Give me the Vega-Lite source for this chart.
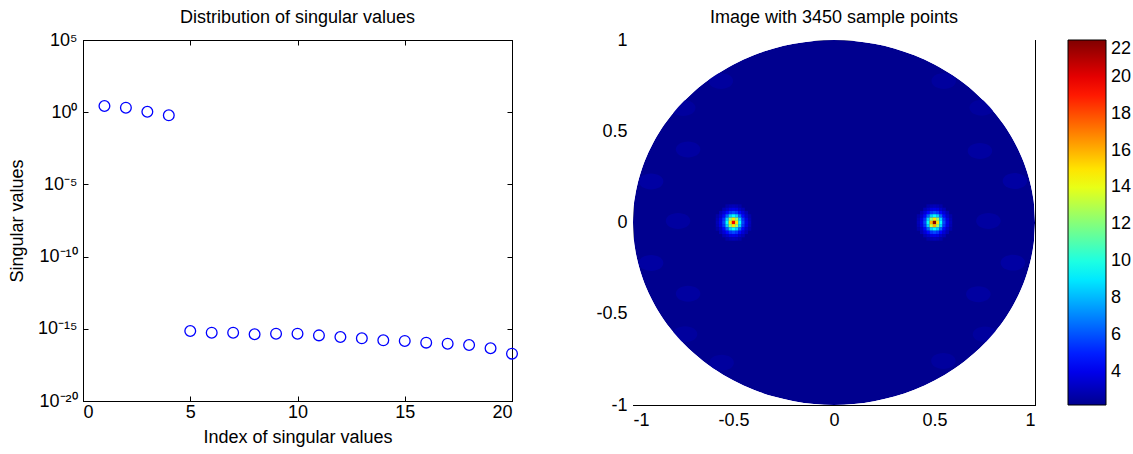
{
  "$schema": "https://vega.github.io/schema/vega-lite/v6.json",
  "autosize": {"type": "pad"},
  "padding": {"left": 8, "top": 8, "right": 0, "bottom": 0},
  "background": "white",
  "bounds": "flush",
  "spacing": 121,
  "config": {
    "view": {"stroke": "#000", "strokeWidth": 1},
    "font": "Liberation Sans",
    "axis": {"labelFont": "Liberation Sans", "labelFontSize": 18, "labelColor": "#000", "tickColor": "#000", "domain": true, "domainColor": "#000", "tickSize": -5, "labelPadding": 10, "grid": false, "zindex": 1, "titleFont": "Liberation Sans", "titleFontSize": 18, "titleFontWeight": "normal", "titleColor": "#000"},
    "title": {"font": "Liberation Sans", "fontSize": 18, "fontWeight": "normal", "color": "#000", "offset": 4},
    "legend": {"labelFont": "Liberation Sans", "labelFontSize": 18, "labelColor": "#000"}
  },
  "datasets": {
    "sv": [
      {"index": 1, "value": 2.7}, {"index": 2, "value": 2.05}, {"index": 3, "value": 1.08}, {"index": 4, "value": 0.61},
      {"index": 5, "value": 7e-16}, {"index": 6, "value": 5.4e-16}, {"index": 7, "value": 5.4e-16}, {"index": 8, "value": 4.2e-16},
      {"index": 9, "value": 4.6e-16}, {"index": 10, "value": 4.6e-16}, {"index": 11, "value": 3.5e-16}, {"index": 12, "value": 2.7e-16},
      {"index": 13, "value": 2.2e-16}, {"index": 14, "value": 1.6e-16}, {"index": 15, "value": 1.44e-16}, {"index": 16, "value": 1.1e-16},
      {"index": 17, "value": 9.3e-17}, {"index": 18, "value": 7.6e-17}, {"index": 19, "value": 4.5e-17}, {"index": 20, "value": 1.9e-17}
    ],
    "disk": [
      {"dx": -1, "ylo": 0, "yhi": 0, "v": 2.2},
      {"dx": -0.995, "ylo": -0.0999, "yhi": 0.0999, "v": 2.2},
      {"dx": -0.99, "ylo": -0.1411, "yhi": 0.1411, "v": 2.2},
      {"dx": -0.98, "ylo": -0.199, "yhi": 0.199, "v": 2.2},
      {"dx": -0.96, "ylo": -0.28, "yhi": 0.28, "v": 2.2},
      {"dx": -0.93, "ylo": -0.3676, "yhi": 0.3676, "v": 2.2},
      {"dx": -0.9, "ylo": -0.4359, "yhi": 0.4359, "v": 2.2},
      {"dx": -0.86, "ylo": -0.5103, "yhi": 0.5103, "v": 2.2},
      {"dx": -0.8, "ylo": -0.6, "yhi": 0.6, "v": 2.2},
      {"dx": -0.75, "ylo": -0.6614, "yhi": 0.6614, "v": 2.2},
      {"dx": -0.7, "ylo": -0.7141, "yhi": 0.7141, "v": 2.2},
      {"dx": -0.65, "ylo": -0.76, "yhi": 0.76, "v": 2.2},
      {"dx": -0.6, "ylo": -0.8, "yhi": 0.8, "v": 2.2},
      {"dx": -0.5, "ylo": -0.866, "yhi": 0.866, "v": 2.2},
      {"dx": -0.4, "ylo": -0.9165, "yhi": 0.9165, "v": 2.2},
      {"dx": -0.3, "ylo": -0.9539, "yhi": 0.9539, "v": 2.2},
      {"dx": -0.2, "ylo": -0.9798, "yhi": 0.9798, "v": 2.2},
      {"dx": -0.1, "ylo": -0.995, "yhi": 0.995, "v": 2.2},
      {"dx": 0, "ylo": -1, "yhi": 1, "v": 2.2},
      {"dx": 0.1, "ylo": -0.995, "yhi": 0.995, "v": 2.2},
      {"dx": 0.2, "ylo": -0.9798, "yhi": 0.9798, "v": 2.2},
      {"dx": 0.3, "ylo": -0.9539, "yhi": 0.9539, "v": 2.2},
      {"dx": 0.4, "ylo": -0.9165, "yhi": 0.9165, "v": 2.2},
      {"dx": 0.5, "ylo": -0.866, "yhi": 0.866, "v": 2.2},
      {"dx": 0.6, "ylo": -0.8, "yhi": 0.8, "v": 2.2},
      {"dx": 0.65, "ylo": -0.76, "yhi": 0.76, "v": 2.2},
      {"dx": 0.7, "ylo": -0.7141, "yhi": 0.7141, "v": 2.2},
      {"dx": 0.75, "ylo": -0.6614, "yhi": 0.6614, "v": 2.2},
      {"dx": 0.8, "ylo": -0.6, "yhi": 0.6, "v": 2.2},
      {"dx": 0.86, "ylo": -0.5103, "yhi": 0.5103, "v": 2.2},
      {"dx": 0.9, "ylo": -0.4359, "yhi": 0.4359, "v": 2.2},
      {"dx": 0.93, "ylo": -0.3676, "yhi": 0.3676, "v": 2.2},
      {"dx": 0.96, "ylo": -0.28, "yhi": 0.28, "v": 2.2},
      {"dx": 0.98, "ylo": -0.199, "yhi": 0.199, "v": 2.2},
      {"dx": 0.99, "ylo": -0.1411, "yhi": 0.1411, "v": 2.2},
      {"dx": 0.995, "ylo": -0.0999, "yhi": 0.0999, "v": 2.2},
      {"dx": 1, "ylo": 0, "yhi": 0, "v": 2.2}
    ],
    "spots": [
      {"sx": -0.776, "sy": 0.008, "v": 2.55}, {"sx": -0.726, "sy": 0.4, "v": 2.55}, {"sx": -0.726, "sy": -0.39, "v": 2.55},
      {"sx": -0.91, "sy": 0.225, "v": 2.6}, {"sx": -0.91, "sy": -0.222, "v": 2.6}, {"sx": -0.75, "sy": 0.627, "v": 2.5},
      {"sx": -0.741, "sy": -0.612, "v": 2.5}, {"sx": -0.563, "sy": 0.775, "v": 2.5}, {"sx": -0.559, "sy": -0.768, "v": 2.5},
      {"sx": 0.768, "sy": 0.008, "v": 2.55}, {"sx": 0.726, "sy": 0.392, "v": 2.55}, {"sx": 0.718, "sy": -0.393, "v": 2.55},
      {"sx": 0.9, "sy": 0.227, "v": 2.6}, {"sx": 0.89, "sy": -0.22, "v": 2.6}, {"sx": 0.735, "sy": 0.629, "v": 2.5},
      {"sx": 0.751, "sy": -0.613, "v": 2.5}, {"sx": 0.546, "sy": 0.775, "v": 2.5}, {"sx": 0.544, "sy": -0.759, "v": 2.5}
    ],
    "peaks": [
      {"px": -0.532, "py": 0.09, "v": 2.7}, {"px": -0.516, "py": 0.09, "v": 2.9}, {"px": -0.5, "py": 0.09, "v": 3.0}, {"px": -0.484, "py": 0.09, "v": 2.9}, {"px": -0.468, "py": 0.09, "v": 2.7},
      {"px": -0.548, "py": 0.072, "v": 2.9}, {"px": -0.532, "py": 0.072, "v": 3.3}, {"px": -0.516, "py": 0.072, "v": 3.8}, {"px": -0.5, "py": 0.072, "v": 3.9}, {"px": -0.484, "py": 0.072, "v": 3.8}, {"px": -0.468, "py": 0.072, "v": 3.3}, {"px": -0.452, "py": 0.072, "v": 2.9},
      {"px": -0.564, "py": 0.054, "v": 2.9}, {"px": -0.548, "py": 0.054, "v": 3.6}, {"px": -0.532, "py": 0.054, "v": 4.5}, {"px": -0.516, "py": 0.054, "v": 5.4}, {"px": -0.5, "py": 0.054, "v": 5.8}, {"px": -0.484, "py": 0.054, "v": 5.4}, {"px": -0.468, "py": 0.054, "v": 4.5}, {"px": -0.452, "py": 0.054, "v": 3.6}, {"px": -0.436, "py": 0.054, "v": 2.9},
      {"px": -0.58, "py": 0.036, "v": 2.7}, {"px": -0.564, "py": 0.036, "v": 3.3}, {"px": -0.548, "py": 0.036, "v": 4.5}, {"px": -0.532, "py": 0.036, "v": 6.3}, {"px": -0.516, "py": 0.036, "v": 8.5}, {"px": -0.5, "py": 0.036, "v": 9.5}, {"px": -0.484, "py": 0.036, "v": 8.5}, {"px": -0.468, "py": 0.036, "v": 6.3}, {"px": -0.452, "py": 0.036, "v": 4.5}, {"px": -0.436, "py": 0.036, "v": 3.3}, {"px": -0.42, "py": 0.036, "v": 2.7},
      {"px": -0.58, "py": 0.018, "v": 2.9}, {"px": -0.564, "py": 0.018, "v": 3.8}, {"px": -0.548, "py": 0.018, "v": 5.4}, {"px": -0.532, "py": 0.018, "v": 8.5}, {"px": -0.516, "py": 0.018, "v": 12.5}, {"px": -0.5, "py": 0.018, "v": 15}, {"px": -0.484, "py": 0.018, "v": 12.5}, {"px": -0.468, "py": 0.018, "v": 8.5}, {"px": -0.452, "py": 0.018, "v": 5.4}, {"px": -0.436, "py": 0.018, "v": 3.8}, {"px": -0.42, "py": 0.018, "v": 2.9},
      {"px": -0.58, "py": 0, "v": 3.0}, {"px": -0.564, "py": 0, "v": 3.9}, {"px": -0.548, "py": 0, "v": 5.8}, {"px": -0.532, "py": 0, "v": 9.5}, {"px": -0.516, "py": 0, "v": 15}, {"px": -0.5, "py": 0, "v": 20}, {"px": -0.484, "py": 0, "v": 15}, {"px": -0.468, "py": 0, "v": 9.5}, {"px": -0.452, "py": 0, "v": 5.8}, {"px": -0.436, "py": 0, "v": 3.9}, {"px": -0.42, "py": 0, "v": 3.0},
      {"px": -0.58, "py": -0.018, "v": 2.9}, {"px": -0.564, "py": -0.018, "v": 3.8}, {"px": -0.548, "py": -0.018, "v": 5.4}, {"px": -0.532, "py": -0.018, "v": 8.5}, {"px": -0.516, "py": -0.018, "v": 12.5}, {"px": -0.5, "py": -0.018, "v": 15}, {"px": -0.484, "py": -0.018, "v": 12.5}, {"px": -0.468, "py": -0.018, "v": 8.5}, {"px": -0.452, "py": -0.018, "v": 5.4}, {"px": -0.436, "py": -0.018, "v": 3.8}, {"px": -0.42, "py": -0.018, "v": 2.9},
      {"px": -0.58, "py": -0.036, "v": 2.7}, {"px": -0.564, "py": -0.036, "v": 3.3}, {"px": -0.548, "py": -0.036, "v": 4.5}, {"px": -0.532, "py": -0.036, "v": 6.3}, {"px": -0.516, "py": -0.036, "v": 8.5}, {"px": -0.5, "py": -0.036, "v": 9.5}, {"px": -0.484, "py": -0.036, "v": 8.5}, {"px": -0.468, "py": -0.036, "v": 6.3}, {"px": -0.452, "py": -0.036, "v": 4.5}, {"px": -0.436, "py": -0.036, "v": 3.3}, {"px": -0.42, "py": -0.036, "v": 2.7},
      {"px": -0.564, "py": -0.054, "v": 2.9}, {"px": -0.548, "py": -0.054, "v": 3.6}, {"px": -0.532, "py": -0.054, "v": 4.5}, {"px": -0.516, "py": -0.054, "v": 5.4}, {"px": -0.5, "py": -0.054, "v": 5.8}, {"px": -0.484, "py": -0.054, "v": 5.4}, {"px": -0.468, "py": -0.054, "v": 4.5}, {"px": -0.452, "py": -0.054, "v": 3.6}, {"px": -0.436, "py": -0.054, "v": 2.9},
      {"px": -0.548, "py": -0.072, "v": 2.9}, {"px": -0.532, "py": -0.072, "v": 3.3}, {"px": -0.516, "py": -0.072, "v": 3.8}, {"px": -0.5, "py": -0.072, "v": 3.9}, {"px": -0.484, "py": -0.072, "v": 3.8}, {"px": -0.468, "py": -0.072, "v": 3.3}, {"px": -0.452, "py": -0.072, "v": 2.9},
      {"px": -0.532, "py": -0.09, "v": 2.7}, {"px": -0.516, "py": -0.09, "v": 2.9}, {"px": -0.5, "py": -0.09, "v": 3.0}, {"px": -0.484, "py": -0.09, "v": 2.9}, {"px": -0.468, "py": -0.09, "v": 2.7},

      {"px": 0.468, "py": 0.09, "v": 2.7}, {"px": 0.484, "py": 0.09, "v": 2.9}, {"px": 0.5, "py": 0.09, "v": 3.0}, {"px": 0.516, "py": 0.09, "v": 2.9}, {"px": 0.532, "py": 0.09, "v": 2.7},
      {"px": 0.452, "py": 0.072, "v": 2.9}, {"px": 0.468, "py": 0.072, "v": 3.3}, {"px": 0.484, "py": 0.072, "v": 3.8}, {"px": 0.5, "py": 0.072, "v": 3.9}, {"px": 0.516, "py": 0.072, "v": 3.8}, {"px": 0.532, "py": 0.072, "v": 3.3}, {"px": 0.548, "py": 0.072, "v": 2.9},
      {"px": 0.436, "py": 0.054, "v": 2.9}, {"px": 0.452, "py": 0.054, "v": 3.6}, {"px": 0.468, "py": 0.054, "v": 4.5}, {"px": 0.484, "py": 0.054, "v": 5.4}, {"px": 0.5, "py": 0.054, "v": 5.8}, {"px": 0.516, "py": 0.054, "v": 5.4}, {"px": 0.532, "py": 0.054, "v": 4.5}, {"px": 0.548, "py": 0.054, "v": 3.6}, {"px": 0.564, "py": 0.054, "v": 2.9},
      {"px": 0.42, "py": 0.036, "v": 2.7}, {"px": 0.436, "py": 0.036, "v": 3.3}, {"px": 0.452, "py": 0.036, "v": 4.5}, {"px": 0.468, "py": 0.036, "v": 6.3}, {"px": 0.484, "py": 0.036, "v": 8.5}, {"px": 0.5, "py": 0.036, "v": 9.5}, {"px": 0.516, "py": 0.036, "v": 8.5}, {"px": 0.532, "py": 0.036, "v": 6.3}, {"px": 0.548, "py": 0.036, "v": 4.5}, {"px": 0.564, "py": 0.036, "v": 3.3}, {"px": 0.58, "py": 0.036, "v": 2.7},
      {"px": 0.42, "py": 0.018, "v": 2.9}, {"px": 0.436, "py": 0.018, "v": 3.8}, {"px": 0.452, "py": 0.018, "v": 5.4}, {"px": 0.468, "py": 0.018, "v": 8.5}, {"px": 0.484, "py": 0.018, "v": 12.5}, {"px": 0.5, "py": 0.018, "v": 15}, {"px": 0.516, "py": 0.018, "v": 12.5}, {"px": 0.532, "py": 0.018, "v": 8.5}, {"px": 0.548, "py": 0.018, "v": 5.4}, {"px": 0.564, "py": 0.018, "v": 3.8}, {"px": 0.58, "py": 0.018, "v": 2.9},
      {"px": 0.42, "py": 0, "v": 3.0}, {"px": 0.436, "py": 0, "v": 3.9}, {"px": 0.452, "py": 0, "v": 5.8}, {"px": 0.468, "py": 0, "v": 9.5}, {"px": 0.484, "py": 0, "v": 16}, {"px": 0.5, "py": 0, "v": 22}, {"px": 0.516, "py": 0, "v": 15}, {"px": 0.532, "py": 0, "v": 9.5}, {"px": 0.548, "py": 0, "v": 5.8}, {"px": 0.564, "py": 0, "v": 3.9}, {"px": 0.58, "py": 0, "v": 3.0},
      {"px": 0.42, "py": -0.018, "v": 2.9}, {"px": 0.436, "py": -0.018, "v": 3.8}, {"px": 0.452, "py": -0.018, "v": 5.4}, {"px": 0.468, "py": -0.018, "v": 8.5}, {"px": 0.484, "py": -0.018, "v": 13.5}, {"px": 0.5, "py": -0.018, "v": 16}, {"px": 0.516, "py": -0.018, "v": 12.5}, {"px": 0.532, "py": -0.018, "v": 8.5}, {"px": 0.548, "py": -0.018, "v": 5.4}, {"px": 0.564, "py": -0.018, "v": 3.8}, {"px": 0.58, "py": -0.018, "v": 2.9},
      {"px": 0.42, "py": -0.036, "v": 2.7}, {"px": 0.436, "py": -0.036, "v": 3.3}, {"px": 0.452, "py": -0.036, "v": 4.5}, {"px": 0.468, "py": -0.036, "v": 6.3}, {"px": 0.484, "py": -0.036, "v": 8.5}, {"px": 0.5, "py": -0.036, "v": 9.5}, {"px": 0.516, "py": -0.036, "v": 8.5}, {"px": 0.532, "py": -0.036, "v": 6.3}, {"px": 0.548, "py": -0.036, "v": 4.5}, {"px": 0.564, "py": -0.036, "v": 3.3}, {"px": 0.58, "py": -0.036, "v": 2.7},
      {"px": 0.436, "py": -0.054, "v": 2.9}, {"px": 0.452, "py": -0.054, "v": 3.6}, {"px": 0.468, "py": -0.054, "v": 4.5}, {"px": 0.484, "py": -0.054, "v": 5.4}, {"px": 0.5, "py": -0.054, "v": 5.8}, {"px": 0.516, "py": -0.054, "v": 5.4}, {"px": 0.532, "py": -0.054, "v": 4.5}, {"px": 0.548, "py": -0.054, "v": 3.6}, {"px": 0.564, "py": -0.054, "v": 2.9},
      {"px": 0.452, "py": -0.072, "v": 2.9}, {"px": 0.468, "py": -0.072, "v": 3.3}, {"px": 0.484, "py": -0.072, "v": 3.8}, {"px": 0.5, "py": -0.072, "v": 3.9}, {"px": 0.516, "py": -0.072, "v": 3.8}, {"px": 0.532, "py": -0.072, "v": 3.3}, {"px": 0.548, "py": -0.072, "v": 2.9},
      {"px": 0.468, "py": -0.09, "v": 2.7}, {"px": 0.484, "py": -0.09, "v": 2.9}, {"px": 0.5, "py": -0.09, "v": 3.0}, {"px": 0.516, "py": -0.09, "v": 2.9}, {"px": 0.532, "py": -0.09, "v": 2.7}
    ]
  },
  "hconcat": [
    {
      "width": 429,
      "height": 361,
      "title": "Distribution of singular values",
      "data": {"name": "sv"},
      "layer": [
        {
          "mark": {"type": "point", "shape": "circle", "filled": false, "color": "#0000ff", "size": 115, "strokeWidth": 1.3, "opacity": 1},
          "encoding": {
            "x": {"field": "index", "type": "quantitative", "scale": {"domain": [0, 20], "nice": false},
                  "axis": {"orient": "bottom", "values": [0, 5, 10, 15, 20], "title": "Index of singular values", "labelPadding": 7, "titlePadding": 7}},
            "y": {"field": "value", "type": "quantitative", "scale": {"type": "log", "domain": [1e-20, 100000], "nice": false},
                  "axis": {"orient": "left", "values": [1e-20, 1e-15, 1e-10, 1e-5, 1, 100000], "title": "Singular values", "titlePadding": 11, "labelPadding": 11,
                           "labelExpr": "datum.value >= 10000 ? '10⁵' : datum.value >= 0.5 ? '10⁰' : datum.value >= 1e-6 ? '10⁻⁵' : datum.value >= 1e-11 ? '10⁻¹⁰' : datum.value >= 1e-16 ? '10⁻¹⁵' : '10⁻²⁰'"}}
          }
        },
        {
          "mark": {"type": "point", "opacity": 0},
          "encoding": {
            "x": {"field": "index", "type": "quantitative", "axis": {"orient": "top", "values": [0, 5, 10, 15, 20], "labels": false, "title": null}},
            "y": {"field": "value", "type": "quantitative", "axis": {"orient": "right", "values": [1e-20, 1e-15, 1e-10, 1e-5, 1, 100000], "labels": false, "title": null}}
          }
        }
      ],
      "resolve": {"axis": {"x": "independent", "y": "independent"}}
    },
    {
      "width": 402,
      "height": 365,
      "title": "Image with 3450 sample points",
      "layer": [
        {
          "data": {"name": "disk"},
          "mark": {"type": "area", "interpolate": "monotone", "opacity": 1},
          "encoding": {
            "x": {"field": "dx", "type": "quantitative", "scale": {"domain": [-1, 1], "nice": false},
                  "axis": {"orient": "bottom", "values": [-1, -0.5, 0, 0.5, 1], "labelExpr": "datum.value + ''", "title": null, "labelPadding": 11}},
            "y": {"field": "ylo", "type": "quantitative", "scale": {"domain": [-1, 1], "nice": false},
                  "axis": {"orient": "left", "values": [-1, -0.5, 0, 0.5, 1], "labelExpr": "datum.value + ''", "title": null, "labelPadding": 11}},
            "y2": {"field": "yhi"},
            "color": {"field": "v", "type": "quantitative",
                      "scale": {"type": "linear", "domain": [2.2, 4.4, 9.43, 14.46, 19.49, 22], "range": ["#00008f", "#0000ff", "#00ffff", "#ffff00", "#ff0000", "#800000"], "interpolate": "rgb"},
                      "legend": {"orient": "none", "legendX": 985, "legendY": 0, "direction": "vertical", "title": null, "gradientLength": 365, "gradientThickness": 38, "values": [4, 6, 8, 10, 12, 14, 16, 18, 20, 22], "labelOffset": 5, "labelOverlap": false, "gradientStrokeColor": "#000", "gradientStrokeWidth": 1}}
          }
        },
        {
          "data": {"name": "spots"},
          "mark": {"type": "point", "shape": "M-1,0A1,0.65,0,1,1,1,0A1,0.65,0,1,1,-1,0Z", "filled": true, "size": 600, "opacity": 1, "strokeWidth": 0},
          "encoding": {
            "x": {"field": "sx", "type": "quantitative", "axis": null},
            "y": {"field": "sy", "type": "quantitative", "axis": null},
            "color": {"field": "v", "type": "quantitative", "legend": null}
          }
        },
        {
          "data": {"name": "peaks"},
          "mark": {"type": "rect", "width": 3.3, "height": 3.4, "opacity": 1},
          "encoding": {
            "x": {"field": "px", "type": "quantitative", "axis": null},
            "y": {"field": "py", "type": "quantitative", "axis": null},
            "color": {"field": "v", "type": "quantitative", "legend": null}
          }
        },
        {
          "data": {"name": "disk"},
          "mark": {"type": "area", "interpolate": "monotone", "color": "white", "opacity": 1},
          "encoding": {
            "x": {"field": "dx", "type": "quantitative", "axis": null},
            "y": {"field": "yhi", "type": "quantitative", "axis": null},
            "y2": {"datum": 1}
          }
        },
        {
          "data": {"name": "disk"},
          "mark": {"type": "area", "interpolate": "monotone", "color": "white", "opacity": 1},
          "encoding": {
            "x": {"field": "dx", "type": "quantitative", "axis": null},
            "y": {"field": "ylo", "type": "quantitative", "axis": null},
            "y2": {"datum": -1}
          }
        },
        {
          "data": {"name": "disk"},
          "mark": {"type": "point", "opacity": 0},
          "encoding": {
            "x": {"field": "dx", "type": "quantitative", "axis": {"orient": "top", "values": [-1, -0.5, 0, 0.5, 1], "labels": false, "title": null}},
            "y": {"field": "ylo", "type": "quantitative", "axis": {"orient": "right", "values": [-1, -0.5, 0, 0.5, 1], "labels": false, "title": null}}
          }
        }
      ],
      "resolve": {"axis": {"x": "independent", "y": "independent"}}
    }
  ]
}
